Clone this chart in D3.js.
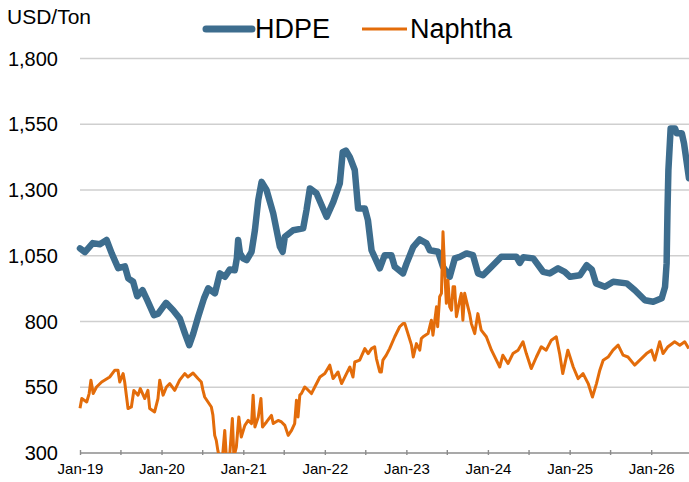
<!DOCTYPE html>
<html>
<head>
<meta charset="utf-8">
<script src="https://cdn.jsdelivr.net/npm/d3@7"></script>
<style>
  body { margin: 0; background: #fff; }
  text { font-family: "Liberation Sans", Arial, sans-serif; fill: #000; }
</style>
</head>
<body>
<svg width="689" height="482"></svg>
<script>
// HDPE price, USD/Ton
var hdpe = [
  ["2019-01-01",1078],["2019-01-23",1064],["2019-02-27",1098],["2019-03-31",1094],["2019-04-30",1110],
  ["2019-05-23",1059],["2019-06-21",1003],["2019-07-21",1010],["2019-08-05",964],["2019-08-27",951],
  ["2019-09-14",896],["2019-10-08",919],["2019-10-29",881],["2019-11-28",824],["2019-12-17",830],
  ["2020-01-21",871],["2020-02-22",843],["2020-03-23",811],["2020-04-15",754],["2020-05-04",710],
  ["2020-05-22",754],["2020-06-13",818],["2020-07-09",888],["2020-07-28",926],["2020-08-27",907],
  ["2020-09-18",983],["2020-10-11",970],["2020-11-02",998],["2020-11-24",995],["2020-12-03",1040],
  ["2020-12-09",1110],["2020-12-17",1060],["2020-12-31",1040],["2021-01-16",1033],["2021-02-07",1065],
  ["2021-02-22",1147],["2021-03-09",1262],["2021-03-24",1331],["2021-04-15",1300],["2021-05-15",1211],
  ["2021-06-14",1084],["2021-06-26",1065],["2021-07-06",1122],["2021-08-12",1147],["2021-09-26",1154],
  ["2021-10-11",1224],["2021-10-26",1306],["2021-11-25",1287],["2022-01-09",1198],["2022-02-08",1255],
  ["2022-03-09",1325],["2022-03-22",1444],["2022-04-05",1450],["2022-04-23",1425],["2022-05-15",1376],
  ["2022-05-30",1230],["2022-06-29",1230],["2022-07-13",1185],["2022-07-29",1071],["2022-09-04",1002],
  ["2022-09-26",1052],["2022-10-26",1052],["2022-11-10",1008],["2022-12-17",983],["2023-01-02",1021],
  ["2023-02-01",1084],["2023-03-02",1112],["2023-04-01",1097],["2023-04-16",1071],["2023-05-23",1065],
  ["2023-06-14",1008],["2023-07-14",970],["2023-08-06",1040],["2023-08-28",1046],["2023-09-27",1059],
  ["2023-10-26",1052],["2023-11-18",983],["2023-12-10",976],["2024-01-17",1008],["2024-03-01",1046],
  ["2024-05-08",1046],["2024-05-23",1023],["2024-06-07",1044],["2024-07-22",1040],["2024-09-04",989],
  ["2024-10-04",983],["2024-11-10",1002],["2024-12-10",989],["2025-01-03",970],["2025-02-16",976],
  ["2025-03-18",1014],["2025-04-10",998],["2025-04-29",945],["2025-06-08",932],["2025-07-15",951],
  ["2025-09-13",945],["2025-10-20",919],["2025-12-04",881],["2026-01-10",875],["2026-02-17",888],
  ["2026-03-04",932],["2026-03-11",1021],["2026-03-15",1224],["2026-03-19",1376],["2026-03-29",1534],
  ["2026-04-18",1534],["2026-04-25",1516],["2026-05-18",1516],["2026-05-28",1477],["2026-06-19",1345]
];

// Naphtha price, USD/Ton
var naphtha = [
  ["2019-01-01",470],["2019-01-09",507],["2019-01-31",494],["2019-02-11",526],["2019-02-19",577],
  ["2019-03-01",526],["2019-03-16",551],["2019-04-08",570],["2019-05-14",589],["2019-06-06",615],
  ["2019-06-20",615],["2019-06-28",570],["2019-07-13",602],["2019-07-20",570],["2019-08-04",469],
  ["2019-08-19",475],["2019-08-30",538],["2019-09-18",520],["2019-09-28",545],["2019-10-18",507],
  ["2019-11-01",538],["2019-11-09",469],["2019-12-01",456],["2019-12-16",507],["2019-12-24",577],
  ["2020-01-08",520],["2020-01-23",551],["2020-02-07",564],["2020-02-29",538],["2020-03-22",577],
  ["2020-04-14",602],["2020-04-28",589],["2020-05-21",604],["2020-06-12",583],["2020-06-27",570],
  ["2020-07-04",540],["2020-07-12",513],["2020-07-27",494],["2020-08-11",475],["2020-08-18",444],
  ["2020-08-26",367],["2020-09-02",348],["2020-09-09",310],["2020-09-17",280],["2020-09-30",285],
  ["2020-10-10",386],["2020-10-17",285],["2020-11-01",290],["2020-11-13",431],["2020-11-20",285],
  ["2020-12-01",323],["2020-12-12",437],["2020-12-23",361],["2021-01-08",405],["2021-01-23",424],
  ["2021-02-07",412],["2021-02-14",520],["2021-02-22",399],["2021-03-09",437],["2021-03-21",507],
  ["2021-03-28",399],["2021-04-15",418],["2021-05-07",443],["2021-05-15",412],["2021-06-06",424],
  ["2021-06-21",418],["2021-07-06",405],["2021-07-21",367],["2021-08-05",386],["2021-08-19",412],
  ["2021-08-27",501],["2021-09-03",437],["2021-09-11",520],["2021-09-18",526],["2021-10-03",551],
  ["2021-10-11",545],["2021-11-02",526],["2021-11-17",551],["2021-12-10",589],["2022-01-01",602],
  ["2022-01-23",634],["2022-02-07",583],["2022-03-01",608],["2022-03-17",564],["2022-04-08",602],
  ["2022-04-23",627],["2022-05-07",589],["2022-05-15",646],["2022-06-06",653],["2022-06-29",697],
  ["2022-07-14",678],["2022-07-29",697],["2022-08-12",704],["2022-08-20",659],["2022-09-04",608],
  ["2022-09-11",608],["2022-09-18",653],["2022-10-03",672],["2022-10-18",697],["2022-11-10",742],
  ["2022-12-02",780],["2022-12-17",792],["2022-12-25",792],["2023-01-08",754],["2023-01-24",710],
  ["2023-02-01",665],["2023-02-15",716],["2023-03-02",691],["2023-03-09",735],["2023-03-17",742],
  ["2023-04-08",754],["2023-04-23",805],["2023-04-30",748],["2023-05-16",856],["2023-05-21",780],
  ["2023-05-30",894],["2023-06-07",907],["2023-06-14",1141],["2023-06-22",983],["2023-06-29",869],
  ["2023-07-06",957],["2023-07-14",856],["2023-07-22",843],["2023-07-29",932],["2023-08-05",932],
  ["2023-08-13",818],["2023-08-28",881],["2023-09-04",907],["2023-09-11",805],["2023-09-19",907],
  ["2023-09-26",881],["2023-10-11",830],["2023-10-19",792],["2023-11-03",754],["2023-11-17",830],
  ["2023-12-02",767],["2023-12-25",742],["2024-01-17",691],["2024-02-08",653],["2024-02-23",627],
  ["2024-03-08",672],["2024-03-31",640],["2024-04-22",678],["2024-05-15",691],["2024-06-06",723],
  ["2024-06-21",678],["2024-07-13",621],["2024-08-05",665],["2024-08-27",704],["2024-09-18",691],
  ["2024-10-11",729],["2024-11-02",742],["2024-11-17",678],["2024-12-01",602],["2024-12-24",691],
  ["2025-01-17",627],["2025-02-08",583],["2025-03-02",602],["2025-03-25",564],["2025-04-13",513],
  ["2025-05-01",564],["2025-05-16",615],["2025-05-31",653],["2025-06-22",665],["2025-07-14",691],
  ["2025-08-06",710],["2025-08-28",672],["2025-09-19",665],["2025-10-19",634],["2025-11-11",653],
  ["2025-12-11",678],["2026-01-02",691],["2026-01-17",653],["2026-02-08",723],["2026-02-23",678],
  ["2026-03-17",704],["2026-04-16",723],["2026-05-09",710],["2026-05-31",723],["2026-06-18",697]
];

var yTicks = [300, 550, 800, 1050, 1300, 1550, 1800];
var seriesNames = ["HDPE", "Naphtha"];
var seriesColors = ["#3d6d8e", "#e36c0a"];

var svg = d3.select("svg"),
    width = +svg.attr("width"),
    height = +svg.attr("height");

var parse = d3.timeParse("%Y-%m-%d");
var plotLeft = 80, plotBottom = 453, plotTop = 58.5;

var x = d3.scaleTime()
    .domain([parse("2019-01-01"), parse("2026-01-01")])
    .range([plotLeft, 651.2]);

var y = d3.scaleLinear()
    .domain([300, 1800])
    .range([plotBottom, plotTop]);

svg.append("defs").append("clipPath").attr("id", "plot")
  .append("rect").attr("x", plotLeft - 4).attr("y", 0).attr("width", width).attr("height", plotBottom);

// gridlines
svg.append("g").selectAll("line")
  .data(yTicks.slice(1))
  .enter().append("line")
    .attr("x1", plotLeft).attr("x2", width)
    .attr("y1", d => y(d)).attr("y2", d => y(d))
    .attr("stroke", "#cfcfcf").attr("stroke-width", 1.3);

// y labels
svg.append("g").selectAll("text")
  .data(yTicks)
  .enter().append("text")
    .attr("x", 58).attr("y", d => y(d)).attr("dy", "0.36em")
    .attr("text-anchor", "end").style("font-size", "20px")
    .text(d3.format(","));

// x axis
var xTicks = d3.timeMonth.every(6).range(parse("2019-01-01"), parse("2026-07-02"));
var xAxis = svg.append("g")
    .attr("transform", "translate(0," + plotBottom + ")")
    .call(d3.axisBottom(x)
      .tickValues(xTicks)
      .tickSize(4)
      .tickSizeOuter(0)
      .tickFormat(d => d.getMonth() === 0 ? d3.timeFormat("%b-%y")(d) : ""));
xAxis.select(".domain").attr("stroke", "#8c8c8c").attr("stroke-width", 1.6)
  .attr("d", "M" + plotLeft + ",0H" + width);
xAxis.selectAll(".tick line").attr("stroke", "#8c8c8c").attr("stroke-width", 1.4).attr("y1", -3).attr("y2", 2);
xAxis.selectAll(".tick text").attr("y", 10).attr("dy", "0.71em")
  .style("font-size", "15px").style("font-family", "Liberation Sans, Arial, sans-serif").attr("fill", "#000");

var line = d3.line()
    .x(d => x(parse(d[0])))
    .y(d => y(d[1]));

var plot = svg.append("g").attr("clip-path", "url(#plot)");

plot.append("path")
    .datum(hdpe)
    .attr("fill", "none")
    .attr("stroke", seriesColors[0])
    .attr("stroke-width", 6.5)
    .attr("stroke-linejoin", "round")
    .attr("stroke-linecap", "round")
    .attr("d", line);

plot.append("path")
    .datum(naphtha)
    .attr("fill", "none")
    .attr("stroke", seriesColors[1])
    .attr("stroke-width", 3)
    .attr("stroke-linejoin", "round")
    .attr("d", line);

// unit label
svg.append("text").attr("x", 7).attr("y", 24).style("font-size", "21px").text("USD/Ton");

// legend
var legend = svg.append("g");
var legendX = [206, 362], legendW = [46, 45], legendSW = [7, 3];
seriesNames.forEach((name, i) => {
  legend.append("line")
    .attr("x1", legendX[i]).attr("x2", legendX[i] + legendW[i])
    .attr("y1", 29).attr("y2", 29)
    .attr("stroke", seriesColors[i]).attr("stroke-width", legendSW[i])
    .attr("stroke-linecap", i === 0 ? "round" : "butt");
  legend.append("text")
    .attr("x", legendX[i] + legendW[i] + 3).attr("y", 38)
    .style("font-size", "27px")
    .text(name);
});
</script>
</body>
</html>
